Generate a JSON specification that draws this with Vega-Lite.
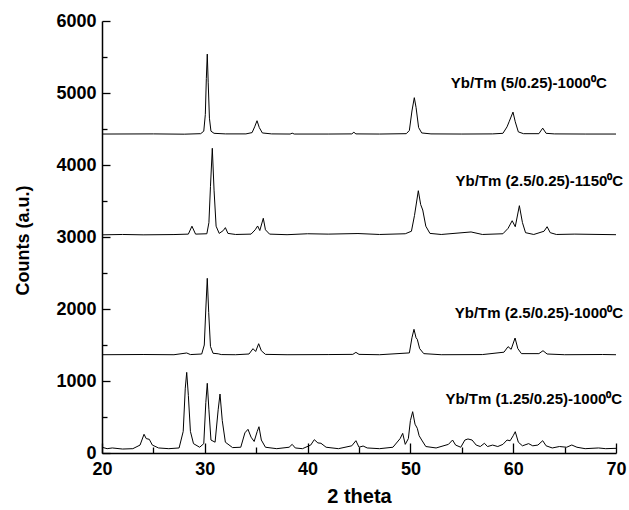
{
  "$schema": "https://vega.github.io/schema/vega-lite/v6.json",
  "width": 514,
  "height": 432,
  "autosize": {"type": "none"},
  "padding": {"left": 102, "top": 21, "right": 13, "bottom": 57},
  "background": "white",
  "config": {
    "view": {"stroke": null},
    "axis": {"grid": false, "domainColor": "black", "labelColor": "black", "titleColor": "black", "labelFont": "Liberation Sans", "titleFont": "Liberation Sans", "labelFontWeight": "bold", "titleFontWeight": "bold", "labelFontSize": 18, "titleFontSize": 18, "domainWidth": 1.5, "labelFlush": false}
  },
  "datasets": {
    "xrd": [
      {"s": "A", "x": 20, "y": 4430}, {"s": "A", "x": 25, "y": 4432}, {"s": "A", "x": 28, "y": 4428}, {"s": "A", "x": 29.6, "y": 4435}, {"s": "A", "x": 29.9, "y": 4470}, {"s": "A", "x": 30.05, "y": 4700}, {"s": "A", "x": 30.15, "y": 5200}, {"s": "A", "x": 30.24, "y": 5540}, {"s": "A", "x": 30.33, "y": 5150}, {"s": "A", "x": 30.45, "y": 4650}, {"s": "A", "x": 30.6, "y": 4470}, {"s": "A", "x": 30.9, "y": 4440}, {"s": "A", "x": 32, "y": 4432}, {"s": "A", "x": 34, "y": 4432}, {"s": "A", "x": 34.6, "y": 4450}, {"s": "A", "x": 34.85, "y": 4530}, {"s": "A", "x": 35.08, "y": 4615}, {"s": "A", "x": 35.3, "y": 4520}, {"s": "A", "x": 35.6, "y": 4445}, {"s": "A", "x": 36.5, "y": 4432}, {"s": "A", "x": 38.3, "y": 4430}, {"s": "A", "x": 38.5, "y": 4442}, {"s": "A", "x": 38.7, "y": 4430}, {"s": "A", "x": 42, "y": 4430}, {"s": "A", "x": 44.3, "y": 4432}, {"s": "A", "x": 44.5, "y": 4455}, {"s": "A", "x": 44.7, "y": 4432}, {"s": "A", "x": 47, "y": 4430}, {"s": "A", "x": 49.6, "y": 4435}, {"s": "A", "x": 49.9, "y": 4480}, {"s": "A", "x": 50.15, "y": 4750}, {"s": "A", "x": 50.38, "y": 4935}, {"s": "A", "x": 50.55, "y": 4800}, {"s": "A", "x": 50.8, "y": 4520}, {"s": "A", "x": 51.1, "y": 4445}, {"s": "A", "x": 52, "y": 4432}, {"s": "A", "x": 55, "y": 4430}, {"s": "A", "x": 58, "y": 4432}, {"s": "A", "x": 59.0, "y": 4440}, {"s": "A", "x": 59.4, "y": 4530}, {"s": "A", "x": 59.6, "y": 4600}, {"s": "A", "x": 59.98, "y": 4735}, {"s": "A", "x": 60.2, "y": 4600}, {"s": "A", "x": 60.5, "y": 4460}, {"s": "A", "x": 61, "y": 4435}, {"s": "A", "x": 62.5, "y": 4435}, {"s": "A", "x": 62.87, "y": 4512}, {"s": "A", "x": 63.2, "y": 4440}, {"s": "A", "x": 64, "y": 4432}, {"s": "A", "x": 67, "y": 4430}, {"s": "A", "x": 70, "y": 4430},
      {"s": "B", "x": 20, "y": 3030}, {"s": "B", "x": 22, "y": 3035}, {"s": "B", "x": 24, "y": 3030}, {"s": "B", "x": 27, "y": 3034}, {"s": "B", "x": 28.4, "y": 3040}, {"s": "B", "x": 28.75, "y": 3150}, {"s": "B", "x": 29.1, "y": 3040}, {"s": "B", "x": 30.2, "y": 3045}, {"s": "B", "x": 30.4, "y": 3200}, {"s": "B", "x": 30.55, "y": 3700}, {"s": "B", "x": 30.73, "y": 4232}, {"s": "B", "x": 30.9, "y": 3650}, {"s": "B", "x": 31.1, "y": 3150}, {"s": "B", "x": 31.4, "y": 3050}, {"s": "B", "x": 31.8, "y": 3090}, {"s": "B", "x": 32.0, "y": 3130}, {"s": "B", "x": 32.25, "y": 3050}, {"s": "B", "x": 33, "y": 3035}, {"s": "B", "x": 34.5, "y": 3040}, {"s": "B", "x": 34.9, "y": 3100}, {"s": "B", "x": 35.14, "y": 3153}, {"s": "B", "x": 35.35, "y": 3090}, {"s": "B", "x": 35.69, "y": 3260}, {"s": "B", "x": 35.9, "y": 3100}, {"s": "B", "x": 36.3, "y": 3040}, {"s": "B", "x": 38, "y": 3032}, {"s": "B", "x": 40, "y": 3045}, {"s": "B", "x": 42, "y": 3040}, {"s": "B", "x": 44.9, "y": 3048}, {"s": "B", "x": 47, "y": 3035}, {"s": "B", "x": 49.5, "y": 3045}, {"s": "B", "x": 50.1, "y": 3080}, {"s": "B", "x": 50.4, "y": 3300}, {"s": "B", "x": 50.77, "y": 3643}, {"s": "B", "x": 51.0, "y": 3450}, {"s": "B", "x": 51.2, "y": 3375}, {"s": "B", "x": 51.5, "y": 3150}, {"s": "B", "x": 51.9, "y": 3050}, {"s": "B", "x": 53, "y": 3035}, {"s": "B", "x": 55.9, "y": 3070}, {"s": "B", "x": 57, "y": 3035}, {"s": "B", "x": 59, "y": 3045}, {"s": "B", "x": 59.5, "y": 3120}, {"s": "B", "x": 59.9, "y": 3226}, {"s": "B", "x": 60.2, "y": 3143}, {"s": "B", "x": 60.6, "y": 3435}, {"s": "B", "x": 60.9, "y": 3200}, {"s": "B", "x": 61.2, "y": 3060}, {"s": "B", "x": 62, "y": 3035}, {"s": "B", "x": 63.0, "y": 3080}, {"s": "B", "x": 63.3, "y": 3143}, {"s": "B", "x": 63.6, "y": 3060}, {"s": "B", "x": 64.2, "y": 3035}, {"s": "B", "x": 66, "y": 3040}, {"s": "B", "x": 70, "y": 3032},
      {"s": "C", "x": 20, "y": 1365}, {"s": "C", "x": 24, "y": 1368}, {"s": "C", "x": 27, "y": 1365}, {"s": "C", "x": 28.24, "y": 1389}, {"s": "C", "x": 28.6, "y": 1367}, {"s": "C", "x": 29.7, "y": 1375}, {"s": "C", "x": 29.95, "y": 1500}, {"s": "C", "x": 30.1, "y": 2000}, {"s": "C", "x": 30.24, "y": 2426}, {"s": "C", "x": 30.38, "y": 1950}, {"s": "C", "x": 30.55, "y": 1480}, {"s": "C", "x": 30.8, "y": 1385}, {"s": "C", "x": 31.3, "y": 1378}, {"s": "C", "x": 31.6, "y": 1367}, {"s": "C", "x": 33, "y": 1365}, {"s": "C", "x": 34.3, "y": 1375}, {"s": "C", "x": 34.69, "y": 1449}, {"s": "C", "x": 34.95, "y": 1410}, {"s": "C", "x": 35.24, "y": 1518}, {"s": "C", "x": 35.5, "y": 1420}, {"s": "C", "x": 35.9, "y": 1370}, {"s": "C", "x": 38, "y": 1365}, {"s": "C", "x": 42, "y": 1367}, {"s": "C", "x": 44.4, "y": 1370}, {"s": "C", "x": 44.7, "y": 1398}, {"s": "C", "x": 45.0, "y": 1370}, {"s": "C", "x": 47, "y": 1365}, {"s": "C", "x": 49.9, "y": 1390}, {"s": "C", "x": 50.15, "y": 1600}, {"s": "C", "x": 50.35, "y": 1718}, {"s": "C", "x": 50.55, "y": 1600}, {"s": "C", "x": 50.67, "y": 1579}, {"s": "C", "x": 50.9, "y": 1450}, {"s": "C", "x": 51.3, "y": 1380}, {"s": "C", "x": 53, "y": 1365}, {"s": "C", "x": 57, "y": 1367}, {"s": "C", "x": 59.1, "y": 1400}, {"s": "C", "x": 59.5, "y": 1477}, {"s": "C", "x": 59.8, "y": 1440}, {"s": "C", "x": 60.18, "y": 1597}, {"s": "C", "x": 60.45, "y": 1450}, {"s": "C", "x": 60.8, "y": 1380}, {"s": "C", "x": 62.5, "y": 1380}, {"s": "C", "x": 62.9, "y": 1421}, {"s": "C", "x": 63.3, "y": 1375}, {"s": "C", "x": 65, "y": 1365}, {"s": "C", "x": 68.7, "y": 1368}, {"s": "C", "x": 70, "y": 1365},
      {"s": "D", "x": 20, "y": 80}, {"s": "D", "x": 20.5, "y": 60}, {"s": "D", "x": 21, "y": 70}, {"s": "D", "x": 22, "y": 55}, {"s": "D", "x": 23, "y": 60}, {"s": "D", "x": 23.7, "y": 110}, {"s": "D", "x": 24.09, "y": 260}, {"s": "D", "x": 24.3, "y": 200}, {"s": "D", "x": 24.6, "y": 190}, {"s": "D", "x": 24.9, "y": 110}, {"s": "D", "x": 25.5, "y": 70}, {"s": "D", "x": 26.5, "y": 60}, {"s": "D", "x": 27.5, "y": 70}, {"s": "D", "x": 27.9, "y": 300}, {"s": "D", "x": 28.1, "y": 900}, {"s": "D", "x": 28.24, "y": 1120}, {"s": "D", "x": 28.4, "y": 800}, {"s": "D", "x": 28.6, "y": 300}, {"s": "D", "x": 28.9, "y": 130}, {"s": "D", "x": 29.5, "y": 80}, {"s": "D", "x": 29.9, "y": 130}, {"s": "D", "x": 30.1, "y": 700}, {"s": "D", "x": 30.24, "y": 968}, {"s": "D", "x": 30.4, "y": 600}, {"s": "D", "x": 30.6, "y": 180}, {"s": "D", "x": 31.0, "y": 150}, {"s": "D", "x": 31.3, "y": 600}, {"s": "D", "x": 31.48, "y": 819}, {"s": "D", "x": 31.7, "y": 450}, {"s": "D", "x": 32.0, "y": 150}, {"s": "D", "x": 32.7, "y": 75}, {"s": "D", "x": 33.5, "y": 80}, {"s": "D", "x": 33.9, "y": 280}, {"s": "D", "x": 34.2, "y": 329}, {"s": "D", "x": 34.5, "y": 220}, {"s": "D", "x": 34.8, "y": 160}, {"s": "D", "x": 35.1, "y": 300}, {"s": "D", "x": 35.27, "y": 365}, {"s": "D", "x": 35.5, "y": 180}, {"s": "D", "x": 35.9, "y": 80}, {"s": "D", "x": 37, "y": 60}, {"s": "D", "x": 38.2, "y": 80}, {"s": "D", "x": 38.5, "y": 120}, {"s": "D", "x": 38.8, "y": 70}, {"s": "D", "x": 39.5, "y": 60}, {"s": "D", "x": 40.3, "y": 110}, {"s": "D", "x": 40.65, "y": 185}, {"s": "D", "x": 41.0, "y": 140}, {"s": "D", "x": 41.3, "y": 135}, {"s": "D", "x": 41.8, "y": 80}, {"s": "D", "x": 43, "y": 60}, {"s": "D", "x": 44.3, "y": 100}, {"s": "D", "x": 44.7, "y": 171}, {"s": "D", "x": 45.0, "y": 80}, {"s": "D", "x": 45.4, "y": 97}, {"s": "D", "x": 45.8, "y": 70}, {"s": "D", "x": 47, "y": 60}, {"s": "D", "x": 48.3, "y": 80}, {"s": "D", "x": 49.0, "y": 200}, {"s": "D", "x": 49.25, "y": 273}, {"s": "D", "x": 49.5, "y": 120}, {"s": "D", "x": 49.8, "y": 200}, {"s": "D", "x": 50.0, "y": 450}, {"s": "D", "x": 50.22, "y": 574}, {"s": "D", "x": 50.45, "y": 400}, {"s": "D", "x": 50.67, "y": 343}, {"s": "D", "x": 50.85, "y": 240}, {"s": "D", "x": 51.1, "y": 180}, {"s": "D", "x": 51.5, "y": 90}, {"s": "D", "x": 52.5, "y": 70}, {"s": "D", "x": 53.7, "y": 120}, {"s": "D", "x": 54.1, "y": 180}, {"s": "D", "x": 54.4, "y": 110}, {"s": "D", "x": 54.9, "y": 80}, {"s": "D", "x": 55.3, "y": 180}, {"s": "D", "x": 55.6, "y": 195}, {"s": "D", "x": 56.0, "y": 180}, {"s": "D", "x": 56.4, "y": 110}, {"s": "D", "x": 56.8, "y": 90}, {"s": "D", "x": 57.2, "y": 135}, {"s": "D", "x": 57.5, "y": 90}, {"s": "D", "x": 58.0, "y": 110}, {"s": "D", "x": 58.5, "y": 90}, {"s": "D", "x": 59.0, "y": 120}, {"s": "D", "x": 59.4, "y": 180}, {"s": "D", "x": 59.7, "y": 170}, {"s": "D", "x": 60.0, "y": 240}, {"s": "D", "x": 60.2, "y": 296}, {"s": "D", "x": 60.5, "y": 150}, {"s": "D", "x": 60.9, "y": 100}, {"s": "D", "x": 61.5, "y": 130}, {"s": "D", "x": 61.9, "y": 100}, {"s": "D", "x": 62.4, "y": 110}, {"s": "D", "x": 62.87, "y": 171}, {"s": "D", "x": 63.2, "y": 100}, {"s": "D", "x": 63.8, "y": 70}, {"s": "D", "x": 64.5, "y": 90}, {"s": "D", "x": 65.2, "y": 80}, {"s": "D", "x": 65.7, "y": 111}, {"s": "D", "x": 66.2, "y": 80}, {"s": "D", "x": 67, "y": 60}, {"s": "D", "x": 68.3, "y": 70}, {"s": "D", "x": 69, "y": 60}, {"s": "D", "x": 70, "y": 65}
    ],
    "labels": [
      {"x": 69.1, "y": 5139, "t": "Yb/Tm (5/0.25)-1000⁰C"},
      {"x": 70.7, "y": 3782, "t": "Yb/Tm (2.5/0.25)-1150⁰C"},
      {"x": 70.7, "y": 1949, "t": "Yb/Tm (2.5/0.25)-1000⁰C"},
      {"x": 70.6, "y": 750, "t": "Yb/Tm (1.25/0.25)-1000⁰C"}
    ]
  },
  "layer": [
    {
      "data": {"name": "xrd"},
      "mark": {"type": "line", "color": "black", "strokeWidth": 1},
      "encoding": {
        "x": {"field": "x", "type": "quantitative", "scale": {"domain": [20, 70], "nice": false, "zero": false},
              "axis": {"title": "2 theta", "values": [20, 30, 40, 50, 60, 70], "format": "d", "ticks": false, "labelPadding": 7, "titlePadding": 8, "titleFontSize": 20}},
        "y": {"field": "y", "type": "quantitative", "scale": {"domain": [0, 6000], "nice": false},
              "axis": {"title": "Counts (a.u.)", "values": [0, 1000, 2000, 3000, 4000, 5000, 6000], "format": "d", "ticks": false, "labelPadding": 6, "titleX": -79, "titleY": 219, "titleAlign": "center", "titleBaseline": "middle", "titleAngle": -90}},
        "detail": {"field": "s"}
      }
    },
    {
      "data": {"name": "xrd"},
      "mark": {"type": "line", "strokeOpacity": 0},
      "encoding": {
        "x": {"field": "x", "type": "quantitative", "axis": {"orient": "bottom", "offset": -10, "values": [20, 30, 40, 50, 60, 70], "ticks": true, "tickColor": "black", "tickWidth": 1.3, "tickSize": 10, "labels": false, "domain": false, "title": null}},
        "y": {"field": "y", "type": "quantitative", "axis": {"orient": "left", "offset": -8, "values": [0, 1000, 2000, 3000, 4000, 5000, 6000], "ticks": true, "tickColor": "black", "tickWidth": 1.3, "tickSize": 8, "labels": false, "domain": false, "title": null}},
        "detail": {"field": "s"}
      }
    },
    {
      "data": {"name": "labels"},
      "mark": {"type": "text", "align": "right", "baseline": "middle", "font": "Liberation Sans", "fontWeight": "bold", "fontSize": 15, "color": "black"},
      "encoding": {
        "x": {"field": "x", "type": "quantitative", "axis": {"orient": "bottom", "offset": -6, "values": [25, 35, 45, 55, 65], "ticks": true, "tickColor": "black", "tickWidth": 1.3, "tickSize": 6, "labels": false, "domain": false, "title": null}},
        "y": {"field": "y", "type": "quantitative", "axis": {"orient": "left", "offset": -5, "values": [500, 1500, 2500, 3500, 4500, 5500], "ticks": true, "tickColor": "black", "tickWidth": 1.3, "tickSize": 5, "labels": false, "domain": false, "title": null}},
        "text": {"field": "t"}
      }
    }
  ],
  "resolve": {"axis": {"x": "independent", "y": "independent"}}
}
